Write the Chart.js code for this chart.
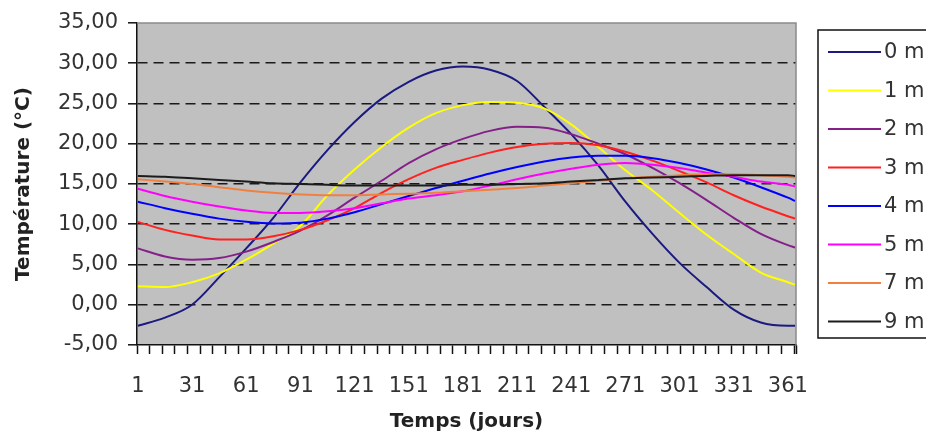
<!DOCTYPE html>
<html>
<head>
<meta charset="utf-8">
<script src="https://cdn.jsdelivr.net/npm/chart.js@4/dist/chart.umd.min.js"></script>
<style>
  body { margin: 0; background: #fff; overflow: hidden; }
</style>
</head>
<body>
<canvas id="tempChart" width="926" height="436"></canvas>
<script>

// giorni
var giorni = [1, 16, 31, 46, 61, 76, 91, 106, 121, 136, 151, 166, 181, 196, 211, 226, 241, 256, 271, 286, 301, 316, 331, 346, 361, 365];

var etichetteX = [1, 31, 61, 91, 121, 151, 181, 211, 241, 271, 301, 331, 361];
var etichetteY = [-5, 0, 5, 10, 15, 20, 25, 30, 35];

var profondita = ["0 m", "1 m", "2 m", "3 m", "4 m", "5 m", "7 m", "9 m"];
var colori = ["#1a1a80", "#ffff00", "#85208a", "#ff2020", "#0000ff", "#ff00ff", "#f08040", "#1c1c1c"];

var t0m = [-2.6, -1.6, 0.0, 3.4, 7.0, 10.8, 15.2, 19.2, 22.7, 25.6, 27.7, 29.1, 29.6, 29.2, 27.8, 24.6, 21.2, 17.3, 12.8, 8.8, 5.2, 2.2, -0.6, -2.2, -2.6, -2.6];
var t1m = [2.3, 2.2, 2.8, 3.9, 5.6, 7.6, 9.8, 13.6, 16.8, 19.6, 22.0, 23.8, 24.8, 25.2, 25.1, 24.4, 22.4, 19.6, 16.7, 14.2, 11.4, 8.7, 6.3, 4.0, 2.8, 2.5];
var t2m = [7.0, 6.0, 5.6, 5.8, 6.6, 7.8, 9.2, 11.1, 13.3, 15.4, 17.6, 19.3, 20.6, 21.6, 22.1, 22.0, 21.2, 20.0, 18.7, 17.0, 15.1, 13.0, 10.8, 8.8, 7.4, 7.1];
var t3m = [10.3, 9.3, 8.6, 8.1, 8.1, 8.5, 9.3, 10.5, 12.0, 13.9, 15.6, 17.0, 18.0, 18.9, 19.6, 20.0, 20.1, 19.8, 19.0, 17.9, 16.6, 15.2, 13.6, 12.2, 11.0, 10.7];
var t4m = [12.8, 12.0, 11.3, 10.7, 10.3, 10.1, 10.2, 10.7, 11.5, 12.5, 13.5, 14.5, 15.4, 16.3, 17.1, 17.8, 18.3, 18.5, 18.5, 18.2, 17.6, 16.8, 15.8, 14.6, 13.3, 12.9];
var t5m = [14.4, 13.5, 12.8, 12.2, 11.7, 11.4, 11.4, 11.6, 12.0, 12.6, 13.2, 13.6, 14.1, 14.8, 15.6, 16.3, 16.9, 17.4, 17.6, 17.4, 17.0, 16.4, 15.9, 15.3, 14.9, 14.7];
var t7m = [15.6, 15.3, 15.0, 14.6, 14.2, 13.9, 13.7, 13.6, 13.6, 13.7, 13.8, 13.9, 14.1, 14.3, 14.5, 14.8, 15.1, 15.4, 15.7, 15.9, 16.1, 16.2, 16.2, 16.1, 15.9, 15.8];
var t9m = [16.0, 15.9, 15.7, 15.5, 15.3, 15.1, 15.0, 14.9, 14.8, 14.8, 14.8, 14.8, 14.9, 14.9, 15.0, 15.1, 15.3, 15.5, 15.7, 15.8, 15.9, 16.0, 16.1, 16.1, 16.1, 16.0];

var serie = [t0m, t1m, t2m, t3m, t4m, t5m, t7m, t9m];

var FONT = "DejaVu Sans";

function punti(valori){
  var out = [];
  for (var i = 0; i < giorni.length; i++) {
    out.push({x: giorni[i], y: valori[i]});
  }
  return out;
}

// segni piccoli sull'asse x, uno ogni 7 giorni
var segniX = [];
for (var t = 0.5; t <= 365.5; t += 7) segniX.push(t);
segniX.push(365.5);

var sfondoPlugin = {
  id: "sfondo",
  beforeDraw: function(chart){
    var a = chart.chartArea, ctx = chart.ctx;
    ctx.save();
    ctx.fillStyle = "#c0c0c0";
    ctx.fillRect(a.left, a.top, a.right - a.left, a.bottom - a.top);
    ctx.restore();
  },
  afterDraw: function(chart){
    var a = chart.chartArea, ctx = chart.ctx;
    ctx.save();
    ctx.strokeStyle = "#8a8a8a";
    ctx.lineWidth = 1.5;
    ctx.beginPath();
    ctx.moveTo(a.left, a.top);
    ctx.lineTo(a.right, a.top);
    ctx.lineTo(a.right, a.bottom);
    ctx.stroke();

    // legenda con cornice
    ctx.fillStyle = "#fff";
    ctx.fillRect(818, 30, 120, 308);
    ctx.strokeStyle = "#111";
    ctx.lineWidth = 1.5;
    ctx.strokeRect(818, 30, 120, 308);
    var ds = chart.data.datasets;
    ctx.font = "21px '" + FONT + "'";
    ctx.textBaseline = "middle";
    ctx.textAlign = "left";
    for (var i = 0; i < ds.length; i++) {
      var y = 52 + i * 38.5;
      ctx.strokeStyle = ds[i].borderColor;
      ctx.lineWidth = 2;
      ctx.beginPath();
      ctx.moveTo(828, y);
      ctx.lineTo(881, y);
      ctx.stroke();
      ctx.fillStyle = "#333";
      ctx.fillText(ds[i].label, 884, y + 1);
    }
    ctx.restore();
  }
};

function drawChart(){
  var datasets = [];
  for (var i = 0; i < serie.length; i++) {
    datasets.push({
      label: profondita[i],
      data: punti(serie[i]),
      borderColor: colori[i],
      backgroundColor: colori[i],
      borderWidth: 2,
      pointRadius: 0,
      cubicInterpolationMode: "monotone",
      order: serie.length - i
    });
  }

  var ctx = document.getElementById("tempChart").getContext("2d");
  var chart = new Chart(ctx, {
    type: "line",
    data: { datasets: datasets },
    plugins: [sfondoPlugin],
    options: {
      responsive: false,
      devicePixelRatio: 1,
      animation: false,
      layout: { padding: { top: 23, right: 130, left: 0, bottom: 0 } },
      plugins: { legend: { display: false }, tooltip: { enabled: false } },
      scales: {
        x: {
          type: "linear",
          position: "bottom",
          min: 0.5,
          max: 365.5,
          weight: 0,
          afterBuildTicks: function(s){
            s.ticks = segniX.map(function(v){ return {value: v}; });
          },
          afterFit: function(s){ s.height = 9; },
          ticks: { display: false },
          grid: { drawOnChartArea: false, tickLength: 9, tickColor: "#111", tickWidth: 1.5 },
          border: { display: true, color: "#111", width: 1.5 }
        },
        xLabels: {
          type: "linear",
          position: "bottom",
          min: 0.5,
          max: 365.5,
          weight: 1,
          afterBuildTicks: function(s){
            s.ticks = etichetteX.map(function(v){ return {value: v}; });
          },
          afterFit: function(s){ s.height = 82; },
          ticks: {
            autoSkip: false,
            maxRotation: 0,
            padding: 20,
            color: "#333",
            font: { family: FONT, size: 21 },
            callback: function(v){ return String(v); }
          },
          grid: { display: false, drawTicks: false },
          border: { display: false },
          title: {
            display: true,
            text: "Temps (jours)",
            color: "#222",
            font: { family: FONT, size: 20, weight: "bold" },
            padding: { top: 0, bottom: 2 }
          }
        },
        y: {
          min: -5,
          max: 35,
          afterBuildTicks: function(s){
            s.ticks = etichetteY.map(function(v){ return {value: v}; });
          },
          afterFit: function(s){ s.width = 137; },
          ticks: {
            padding: 10,
            color: "#333",
            font: { family: FONT, size: 21 },
            callback: function(v){ return v.toFixed(2).replace(".", ","); }
          },
          grid: {
            color: function(c){
              var v = c.tick ? c.tick.value : 0;
              return (v > -5 && v < 35) ? "#1a1a1a" : "rgba(0,0,0,0)";
            },
            lineWidth: 1.6,
            tickLength: 9,
            tickColor: "#111",
            tickWidth: 1.5,
            tickBorderDash: []
          },
          border: { display: true, color: "#111", width: 1.5, dash: [10, 6] },
          title: {
            display: true,
            text: "Température (°C)",
            color: "#222",
            font: { family: FONT, size: 20, weight: "bold" },
            padding: { top: 12, bottom: 0 }
          }
        }
      }
    }
  });
  return chart;
}

drawChart();
</script>
</body>
</html>
